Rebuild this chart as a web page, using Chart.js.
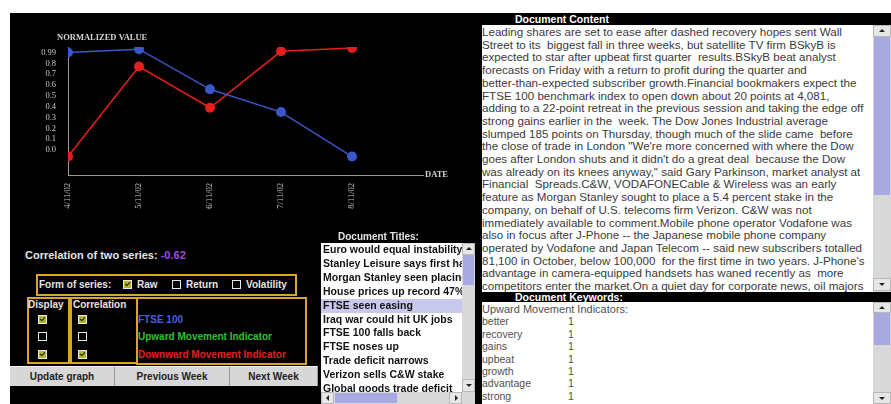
<!DOCTYPE html>
<html>
<head>
<meta charset="utf-8">
<script src="https://cdn.jsdelivr.net/npm/chart.js@4.4.1/dist/chart.umd.min.js"></script>
<style>
  body { margin:0; width:891px; height:404px; background:#fff; overflow:hidden; position:relative;
         font-family:"Liberation Sans", Arial, sans-serif; }
  .a { position:absolute; }
  #leftPanel { left:10px; top:13px; width:472px; height:391px; background:#000; }
  #chartBox { left:10px; top:13px; width:465px; height:222px; }
  .white { color:#e4e4e4; }
  .box { position:absolute; box-sizing:border-box; border:2px solid #d9a42a; }
  .cb { position:absolute; width:9px; height:9px; box-sizing:border-box; border:1px solid #e8e8e8; background:#000; }
  .cb.on { background:#b4b428; }
  .cb.on::after { content:''; position:absolute; left:2px; top:0px; width:2px; height:4px;
                  border:solid #1a1a1a; border-width:0 1.5px 1.5px 0; transform:rotate(45deg); }
  .lbl { position:absolute; font-size:10px; font-weight:bold; white-space:nowrap; line-height:12px; }
  .btn { position:absolute; top:366px; height:20px; box-sizing:border-box; background:#d7d7d7;
         border-right:1px solid #9a9a9a; border-top:1px solid #f4f4f4; font-size:10px; font-weight:bold;
         color:#222; text-align:center; line-height:19px; }
  .hdr { position:absolute; background:#000; color:#fff; font-size:10.5px; font-weight:bold; white-space:nowrap; }
  .sb { position:absolute; background:#d8d8d8; }
  .thumb { position:absolute; background:#a9a9e2; left:1px; right:1px; }
  .arr { position:absolute; background:#e6e6e6; border:1px solid #b8b8b8; box-sizing:border-box; }
  .up::after, .dn::after, .lf::after, .rt::after { content:''; position:absolute; width:0; height:0; }
  .up::after { left:50%; top:3px; margin-left:-3px; border-left:3px solid transparent; border-right:3px solid transparent; border-bottom:3px solid #222; }
  .dn::after { left:50%; top:4px; margin-left:-3px; border-left:3px solid transparent; border-right:3px solid transparent; border-top:3px solid #222; }
  .lf::after { top:50%; left:4px; margin-top:-3px; border-top:3px solid transparent; border-bottom:3px solid transparent; border-right:3px solid #222; }
  .rt::after { top:50%; left:5px; margin-top:-3px; border-top:3px solid transparent; border-bottom:3px solid transparent; border-left:3px solid #222; }
  #content { left:482px; top:25px; width:391px; height:267px; background:#fff; overflow:hidden;
             font-size:11.6px; line-height:12.7px; color:#3a3a3a; white-space:pre; padding-top:1px; box-sizing:border-box; }
  #keywords { left:482px; top:302px; width:391px; height:102px; background:#fff; overflow:hidden;
              font-size:10.5px; line-height:12.4px; color:#505050; white-space:nowrap; padding-top:1px; box-sizing:border-box; }
  #keywords span.k { display:inline-block; width:86px; }
  #titles { left:321px; top:243px; width:154px; height:161px; background:#fff; }
  #titleItems { position:absolute; left:0; top:0; width:141px; height:149px; overflow:hidden;
                font-size:10.5px; font-weight:bold; line-height:13.9px; white-space:nowrap; color:#111; }
  #titleItems div { padding-left:2px; }
  #titleItems .sel { background:#c8c8ec; }
</style>
</head>
<body>
<div id="leftPanel" class="a"></div>
<div id="chartBox" class="a"><canvas id="chart"></canvas></div>

<div class="lbl white" style="left:25px; top:249px; font-size:11px;">Correlation of two series: <span style="color:#a048e0;">-0.62</span></div>

<div class="box" style="left:36px; top:274px; width:261px; height:22px;"></div>
<div class="lbl white" style="left:39px; top:279px;">Form of series:</div>
<div class="cb on" style="left:123px; top:280px;"></div>
<div class="lbl white" style="left:137px; top:279px;">Raw</div>
<div class="cb" style="left:172px; top:280px;"></div>
<div class="lbl white" style="left:186px; top:279px;">Return</div>
<div class="cb" style="left:232px; top:280px;"></div>
<div class="lbl white" style="left:246px; top:279px;">Volatility</div>

<div class="box" style="left:27px; top:297px; width:43px; height:67px;"></div>
<div class="box" style="left:70px; top:297px; width:68px; height:67px;"></div>
<div class="box" style="left:136px; top:297px; width:171px; height:68px;"></div>
<div class="lbl white" style="left:28px; top:299px; font-size:10px;">Display</div>
<div class="lbl white" style="left:73px; top:299px; font-size:10px;">Correlation</div>
<div class="cb on" style="left:38px; top:315px;"></div>
<div class="cb" style="left:38px; top:332px;"></div>
<div class="cb on" style="left:38px; top:350px;"></div>
<div class="cb on" style="left:78px; top:315px;"></div>
<div class="cb" style="left:78px; top:332px;"></div>
<div class="cb on" style="left:78px; top:350px;"></div>
<div class="lbl" style="left:138px; top:314px; color:#4a5ee0;">FTSE 100</div>
<div class="lbl" style="left:138px; top:331px; color:#2fc02f;">Upward Movement Indicator</div>
<div class="lbl" style="left:138px; top:349px; color:#e42020;">Downward Movement Indicator</div>

<div class="btn" style="left:10px; width:105px;">Update graph</div>
<div class="btn" style="left:115px; width:115px;">Previous Week</div>
<div class="btn" style="left:230px; width:88px;">Next Week</div>

<div class="lbl white" style="left:338px; top:231px; font-size:10px;">Document Titles:</div>
<div id="titles" class="a">
  <div id="titleItems">
    <div>Euro would equal instability</div>
    <div>Stanley Leisure says first half</div>
    <div>Morgan Stanley seen placing</div>
    <div>House prices up record 47%</div>
    <div class="sel">FTSE seen easing</div>
    <div>Iraq war could hit UK jobs</div>
    <div>FTSE 100 falls back</div>
    <div>FTSE noses up</div>
    <div>Trade deficit narrows</div>
    <div>Verizon sells C&amp;W stake</div>
    <div>Global goods trade deficit</div>
  </div>
  <div class="sb" style="left:141px; top:0; width:13px; height:149px;">
    <div class="arr up" style="left:0; top:0; width:13px; height:12px;"></div>
    <div class="thumb" style="top:12px; height:30px;"></div>
    <div class="arr dn" style="left:0; top:136px; width:13px; height:13px;"></div>
  </div>
  <div class="sb" style="left:0; top:149px; width:154px; height:12px;">
    <div class="arr lf" style="left:0; top:0; width:13px; height:12px;"></div>
    <div style="position:absolute; left:14px; top:1px; width:62px; height:10px; background:#a9a9e2;"></div>
    <div class="arr rt" style="left:128px; top:0; width:13px; height:12px;"></div>
  </div>
</div>

<div class="hdr" style="left:475px; top:13px; width:416px; height:12px; line-height:12px;"><span style="padding-left:40px;">Document Content</span></div>
<div id="content" class="a">Leading shares are set to ease after dashed recovery hopes sent Wall
Street to its  biggest fall in three weeks, but satellite TV firm BSkyB is
expected to star after upbeat first quarter  results.BSkyB beat analyst
forecasts on Friday with a return to profit during the quarter and
better-than-expected subscriber growth.Financial bookmakers expect the
FTSE 100 benchmark index to open down about 20 points at 4,081,
adding to a 22-point retreat in the previous session and taking the edge off
strong gains earlier in the  week. The Dow Jones Industrial average
slumped 185 points on Thursday, though much of the slide came  before
the close of trade in London "We're more concerned with where the Dow
goes after London shuts and it didn't do a great deal  because the Dow
was already on its knees anyway," said Gary Parkinson, market analyst at
Financial  Spreads.C&amp;W, VODAFONECable &amp; Wireless was an early
feature as Morgan Stanley sought to place a 5.4 percent stake in the
company, on behalf of U.S. telecoms firm Verizon. C&amp;W was not
immediately available to comment.Mobile phone operator Vodafone was
also in focus after J-Phone -- the Japanese mobile phone company
operated by Vodafone and Japan Telecom -- said new subscribers totalled
81,100 in October, below 100,000  for the first time in two years. J-Phone's
advantage in camera-equipped handsets has waned recently as  more
competitors enter the market.On a quiet day for corporate news, oil majors</div>
<div class="sb" style="left:873px; top:25px; width:18px; height:267px;">
  <div class="arr up" style="left:0; top:0; width:18px; height:12px;"></div>
  <div class="thumb" style="top:12px; height:158px;"></div>
  <div class="arr dn" style="left:0; top:253px; width:18px; height:13px;"></div>
</div>

<div class="hdr" style="left:475px; top:292px; width:416px; height:10px; line-height:10px;"><span style="padding-left:40px;">Document Keywords:</span></div>
<div id="keywords" class="a">
  <div style="font-size:11px;">Upward Movement Indicators:</div>
  <div><span class="k">better</span>1</div>
  <div><span class="k">recovery</span>1</div>
  <div><span class="k">gains</span>1</div>
  <div><span class="k">upbeat</span>1</div>
  <div><span class="k">growth</span>1</div>
  <div><span class="k">advantage</span>1</div>
  <div><span class="k">strong</span>1</div>
</div>
<div class="sb" style="left:873px; top:302px; width:18px; height:102px;">
  <div class="arr up" style="left:0; top:0; width:18px; height:11px;"></div>
  <div class="thumb" style="top:11px; height:32px;"></div>
  <div class="arr dn" style="left:0; top:90px; width:18px; height:12px;"></div>
</div>

<script>
// week of 4-8 November 2002
const dates = ['4/11/02', '5/11/02', '6/11/02', '7/11/02', '8/11/02'];
const ftse100 = [0.90, 0.93, 0.56, 0.35, -0.06];
const downwardIndicator = [-0.06, 0.77, 0.39, 0.91, 0.94];
const yTickValues = [0.9, 0.8, 0.7, 0.6, 0.5, 0.4, 0.3, 0.2, 0.1, 0.0];
const yTickLabels = ['0.99', '0.8', '0.7', '0.6', '0.5', '0.4', '0.3', '0.2', '0.1', '0.0'];

const serif = '"Liberation Serif", "Times New Roman", serif';

const axisNames = {
  id: 'axisNames',
  afterDraw(chart) {
    const { ctx, chartArea } = chart;
    ctx.save();
    ctx.fillStyle = '#d4d4d4';
    ctx.font = 'bold 8.5px ' + serif;
    ctx.textBaseline = 'middle';
    ctx.fillText('NORMALIZED VALUE', chartArea.left - 11, chartArea.top - 9);
    ctx.fillText('DATE', chartArea.right + 2, chartArea.bottom);
    ctx.restore();
  }
};

const toPoints = arr => arr.map((v, i) => ({ x: i, y: v }));

new Chart(document.getElementById('chart'), {
  type: 'line',
  data: {
    datasets: [
      {
        label: 'FTSE 100',
        data: toPoints(ftse100),
        borderColor: '#3b56c8',
        backgroundColor: '#3b56c8',
        borderWidth: 1.5,
        pointRadius: 5,
        pointBorderWidth: 0,
        tension: 0
      },
      {
        label: 'Downward Movement Indicator',
        data: toPoints(downwardIndicator),
        borderColor: '#e41e1e',
        backgroundColor: '#e41e1e',
        borderWidth: 1.5,
        pointRadius: 5,
        pointBorderWidth: 0,
        tension: 0
      }
    ]
  },
  options: {
    responsive: true,
    maintainAspectRatio: false,
    animation: false,
    layout: { padding: { top: 34, right: 52, left: 0, bottom: 0 } },
    plugins: { legend: { display: false }, tooltip: { enabled: false } },
    scales: {
      x: {
        type: 'linear',
        min: 0,
        max: 5,
        grid: { display: false, drawTicks: false },
        border: { color: '#9a9a9a', width: 1 },
        afterBuildTicks: s => { s.ticks = dates.map((d, i) => ({ value: i })); },
        afterFit: s => { s.height = 60; },
        ticks: {
          color: '#c8c8c8',
          font: { family: serif, size: 8.5 },
          minRotation: 90,
          maxRotation: 90,
          padding: 8,
          autoSkip: false,
          callback: v => dates[v]
        }
      },
      y: {
        min: -0.23,
        max: 0.95,
        grid: { display: false, drawTicks: false },
        border: { color: '#9a9a9a', width: 1 },
        afterBuildTicks: s => { s.ticks = yTickValues.map(v => ({ value: v })); },
        afterFit: s => { s.width = 58; },
        ticks: {
          color: '#c8c8c8',
          font: { family: serif, size: 8.5 },
          padding: 12,
          autoSkip: false,
          callback: (v, i) => yTickLabels[i]
        }
      }
    }
  },
  plugins: [axisNames]
});
</script>
</body>
</html>
